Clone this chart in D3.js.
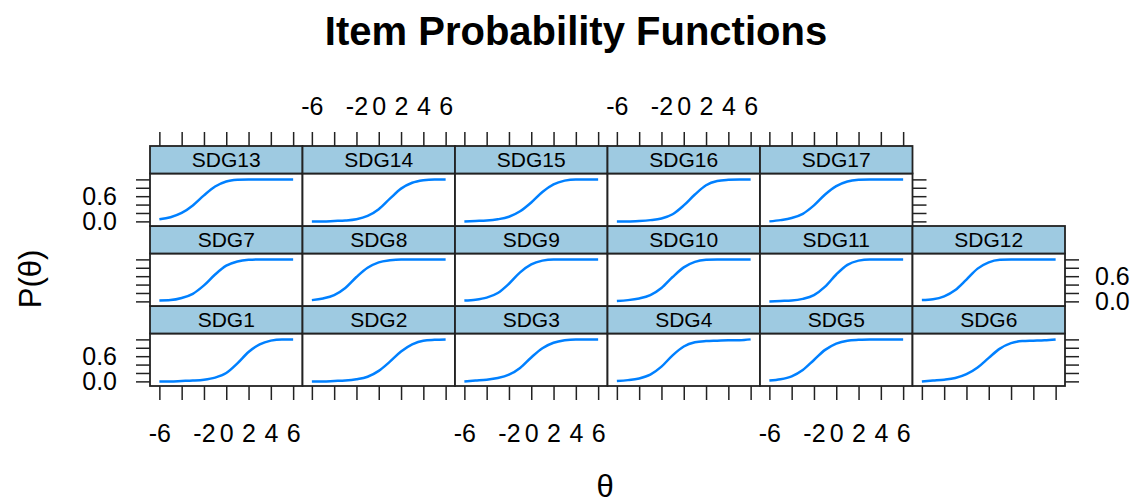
<!DOCTYPE html>
<html>
<head>
<meta charset="utf-8">
<script src="https://cdn.jsdelivr.net/npm/d3@7/dist/d3.min.js"></script>
<style>
body { margin: 0; background: #fff; }
svg text { font-family: "Liberation Sans", Arial, sans-serif; fill: #000; }
</style>
</head>
<body>
<svg></svg>
<script>
var width = 1140;
var height = 503;

// theta grid the curves were read at
var theta = [-6, -5, -4, -3, -2, -1, 0, 1, 2, 3, 4, 5, 6];

// P(theta)
var sdg1  = [0.00, 0.00, 0.01, 0.02, 0.04, 0.09, 0.20, 0.43, 0.70, 0.88, 0.97, 1.00, 1.00];
var sdg2  = [0.00, 0.00, 0.01, 0.02, 0.05, 0.11, 0.25, 0.47, 0.71, 0.88, 0.97, 0.99, 1.00];
var sdg3  = [0.00, 0.02, 0.04, 0.08, 0.16, 0.32, 0.57, 0.79, 0.92, 0.98, 1.00, 1.00, 1.00];
var sdg4  = [0.01, 0.03, 0.07, 0.16, 0.35, 0.62, 0.83, 0.93, 0.96, 0.97, 0.98, 0.98, 1.00];
var sdg5  = [0.02, 0.05, 0.12, 0.27, 0.51, 0.75, 0.90, 0.97, 0.99, 1.00, 1.00, 1.00, 1.00];
var sdg6  = [0.00, 0.02, 0.04, 0.08, 0.17, 0.33, 0.56, 0.78, 0.91, 0.96, 0.97, 0.98, 1.00];
var sdg7  = [0.02, 0.03, 0.08, 0.18, 0.38, 0.64, 0.85, 0.95, 0.99, 1.00, 1.00, 1.00, 1.00];
var sdg8  = [0.03, 0.07, 0.15, 0.32, 0.58, 0.80, 0.93, 0.98, 1.00, 1.00, 1.00, 1.00, 1.00];
var sdg9  = [0.02, 0.04, 0.09, 0.20, 0.42, 0.69, 0.88, 0.97, 1.00, 1.00, 1.00, 1.00, 1.00];
var sdg10 = [0.01, 0.03, 0.07, 0.15, 0.32, 0.58, 0.81, 0.94, 0.99, 1.00, 1.00, 1.00, 1.00];
var sdg11 = [0.00, 0.01, 0.02, 0.06, 0.15, 0.35, 0.64, 0.87, 0.97, 1.00, 1.00, 1.00, 1.00];
var sdg12 = [0.03, 0.05, 0.12, 0.27, 0.52, 0.78, 0.93, 0.99, 1.00, 1.00, 1.00, 1.00, 1.00];
var sdg13 = [0.05, 0.10, 0.20, 0.38, 0.62, 0.83, 0.95, 0.99, 1.00, 1.00, 1.00, 1.00, 1.00];
var sdg14 = [0.00, 0.00, 0.01, 0.02, 0.05, 0.13, 0.29, 0.54, 0.78, 0.92, 0.98, 1.00, 1.00];
var sdg15 = [0.00, 0.01, 0.02, 0.05, 0.11, 0.24, 0.45, 0.70, 0.88, 0.97, 1.00, 1.00, 1.00];
var sdg16 = [0.00, 0.00, 0.01, 0.03, 0.07, 0.17, 0.38, 0.64, 0.86, 0.96, 0.99, 1.00, 1.00];
var sdg17 = [0.00, 0.03, 0.08, 0.18, 0.38, 0.64, 0.84, 0.95, 0.99, 1.00, 1.00, 1.00, 1.00];

var items = ['SDG1', 'SDG2', 'SDG3', 'SDG4', 'SDG5', 'SDG6', 'SDG7', 'SDG8', 'SDG9',
             'SDG10', 'SDG11', 'SDG12', 'SDG13', 'SDG14', 'SDG15', 'SDG16', 'SDG17'];
var probs = [sdg1, sdg2, sdg3, sdg4, sdg5, sdg6, sdg7, sdg8, sdg9,
             sdg10, sdg11, sdg12, sdg13, sdg14, sdg15, sdg16, sdg17];

// axis ticks and the labels lattice kept
var xTicks = [-6, -4, -2, 0, 2, 4, 6];
var xTickLabels = ['-6', '', '-2', '0', '2', '4', '6'];
var yTicks = [0, 0.2, 0.4, 0.6, 0.8, 1.0];
var yTickLabels = ['0.0', '', '', '0.6', '', ''];

// layout
var nCols = 6;
var nRows = 3;
var gridLeft = 150;
var gridRight = 1065;
var gridTop = 146;
var stripH = 27.5;
var panelH = 52.5;
var colW = (gridRight - gridLeft) / nCols;
var rowH = stripH + panelH;
var tickLen = 14;

var stripColor = '#9ecae1';
var lineColor = '#0080ff';
var borderColor = '#222';

var svg = d3.select('svg')
            .attr('width', width)
            .attr('height', height);

var panels = items.map((name, i) => ({
    name: name,
    values: probs[i],
    col: i % nCols,
    row: nRows - 1 - Math.floor(i / nCols)
}));

function colX(c) { return gridLeft + c * colW; }
function rowY(r) { return gridTop + r * rowH; }

function xScale(c) {
    return d3.scaleLinear()
             .domain([-6.84, 6.84])
             .range([colX(c), colX(c) + colW]);
}

function yScale(r) {
    var y0 = rowY(r) + stripH;
    return d3.scaleLinear()
             .domain([-0.11, 1.14])
             .range([y0 + panelH, y0]);
}

var line = d3.line()
             .curve(d3.curveMonotoneX);

// panels
var g = svg.selectAll('.panel')
           .data(panels)
           .enter()
           .append('g')
               .classed('panel', true);

g.append('rect')
    .attr('x', d => colX(d.col))
    .attr('y', d => rowY(d.row) + stripH)
    .attr('width', colW)
    .attr('height', panelH)
    .attr('fill', '#fff');

g.append('path')
    .attr('fill', 'none')
    .attr('stroke', lineColor)
    .attr('stroke-width', 2.5)
    .attr('d', d => {
        var x = xScale(d.col);
        var y = yScale(d.row);
        return line.x((v, i) => x(theta[i])).y(v => y(v))(d.values);
    });

g.append('rect')
    .attr('x', d => colX(d.col))
    .attr('y', d => rowY(d.row) + stripH)
    .attr('width', colW)
    .attr('height', panelH)
    .attr('fill', 'none')
    .attr('stroke', borderColor)
    .attr('stroke-width', 1.8);

// strips
g.append('rect')
    .attr('x', d => colX(d.col))
    .attr('y', d => rowY(d.row))
    .attr('width', colW)
    .attr('height', stripH)
    .attr('fill', stripColor)
    .attr('stroke', borderColor)
    .attr('stroke-width', 1.8);

g.append('text')
    .attr('x', d => colX(d.col) + colW / 2)
    .attr('y', d => rowY(d.row) + stripH / 2)
    .attr('dy', '0.36em')
    .attr('text-anchor', 'middle')
    .attr('font-size', 21)
    .text(d => d.name);

// axes
function styleAxis(sel) {
    sel.select('.domain').remove();
    sel.attr('font-size', 25)
       .attr('font-family', null);
    sel.selectAll('line').attr('stroke', borderColor).attr('stroke-width', 1.5);
}

function withLabels(labels, show) {
    return (d, i) => show ? labels[i] : '';
}

// bottom: every column, labels on 1st, 3rd, 5th
d3.range(nCols).forEach(c => {
    svg.append('g')
        .attr('transform', `translate(0, ${rowY(2) + rowH})`)
        .call(d3.axisBottom(xScale(c))
                .tickValues(xTicks)
                .tickSize(tickLen)
                .tickPadding(24)
                .tickFormat(withLabels(xTickLabels, c % 2 === 0)))
        .call(styleAxis);
});

// top: columns that have a panel in the top row, labels on 2nd and 4th
d3.range(5).forEach(c => {
    svg.append('g')
        .attr('transform', `translate(0, ${rowY(0)})`)
        .call(d3.axisTop(xScale(c))
                .tickValues(xTicks)
                .tickSize(tickLen)
                .tickPadding(17)
                .tickFormat(withLabels(xTickLabels, c % 2 === 1)))
        .call(styleAxis);
});

// left: labels on rows 1 and 3
d3.range(nRows).forEach(r => {
    svg.append('g')
        .attr('transform', `translate(${gridLeft}, 0)`)
        .call(d3.axisLeft(yScale(r))
                .tickValues(yTicks)
                .tickSize(tickLen)
                .tickPadding(19)
                .tickFormat(withLabels(yTickLabels, r !== 1)))
        .call(styleAxis);
});

// right: top row ends at column 5, labels only on middle row
d3.range(nRows).forEach(r => {
    var xr = r === 0 ? colX(5) : gridRight;
    svg.append('g')
        .attr('transform', `translate(${xr}, 0)`)
        .call(d3.axisRight(yScale(r))
                .tickValues(yTicks)
                .tickSize(tickLen)
                .tickPadding(16)
                .tickFormat(withLabels(yTickLabels, r === 1)))
        .call(styleAxis);
});

// titles
svg.append('text')
    .attr('x', 576)
    .attr('y', 45)
    .attr('text-anchor', 'middle')
    .attr('font-size', 40)
    .attr('font-weight', 'bold')
    .text('Item Probability Functions');

svg.append('text')
    .attr('x', 605)
    .attr('y', 497)
    .attr('text-anchor', 'middle')
    .attr('font-size', 31)
    .text('θ');

svg.append('text')
    .attr('transform', 'translate(41, 279) rotate(-90)')
    .attr('text-anchor', 'middle')
    .attr('font-size', 31)
    .text('P(θ)');
</script>
</body>
</html>
